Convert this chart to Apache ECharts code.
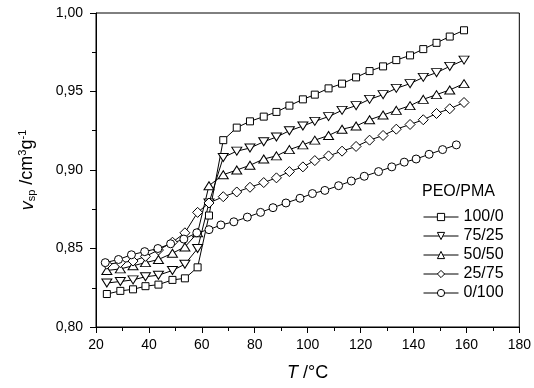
<!DOCTYPE html>
<html><head><meta charset="utf-8">
<script src="https://cdn.jsdelivr.net/npm/echarts@6/dist/echarts.min.js"></script>
<style>html,body{margin:0;padding:0;background:#fff}#c{width:534px;height:388px}</style>
</head><body><div id="c"></div>
<script>
const seriesNames = ['100/0', '75/25', '50/50', '25/75', '0/100'];
const tA = [24.1, 29.2, 34, 38.7, 43.6, 48.9, 53.6, 58.4, 62.7, 68.1, 73.2, 78.2, 83.4, 88.2, 93.1, 98.2, 102.7, 107.9, 113, 118.3, 123.4, 128.5, 133.5, 138.7, 143.7, 148.7, 153.7, 159.1];
const tCircle = [23.5, 28.5, 33.4, 38.4, 43.4, 48.2, 53.2, 58.1, 62.7, 67.2, 72.1, 77.2, 82.2, 86.9, 91.8, 97.1, 101.8, 106.5, 111.7, 116.5, 121.4, 126.8, 131.8, 136.5, 141, 145.9, 151, 156.2];
const v100_0 = [0.821, 0.823, 0.824, 0.826, 0.827, 0.830, 0.831, 0.838, 0.871, 0.919, 0.927, 0.931, 0.934, 0.937, 0.941, 0.945, 0.948, 0.952, 0.955, 0.959, 0.963, 0.966, 0.970, 0.973, 0.977, 0.981, 0.985, 0.989];
const v75_25 = [0.828, 0.829, 0.830, 0.832, 0.833, 0.836, 0.840, 0.850, 0.879, 0.908, 0.912, 0.914, 0.918, 0.921, 0.925, 0.928, 0.931, 0.934, 0.938, 0.941, 0.945, 0.948, 0.952, 0.955, 0.959, 0.962, 0.966, 0.970];
const v50_50 = [0.836, 0.837, 0.839, 0.841, 0.843, 0.847, 0.851, 0.860, 0.890, 0.897, 0.900, 0.903, 0.907, 0.909, 0.913, 0.916, 0.919, 0.922, 0.926, 0.928, 0.932, 0.935, 0.938, 0.941, 0.945, 0.948, 0.951, 0.955];
const v25_75 = [0.840, 0.841, 0.842, 0.845, 0.849, 0.854, 0.860, 0.873, 0.879, 0.883, 0.886, 0.889, 0.892, 0.895, 0.899, 0.902, 0.906, 0.909, 0.912, 0.915, 0.919, 0.922, 0.926, 0.929, 0.932, 0.936, 0.939, 0.943];
const v0_100 = [0.841, 0.843, 0.846, 0.848, 0.850, 0.853, 0.856, 0.860, 0.862, 0.865, 0.867, 0.870, 0.873, 0.876, 0.879, 0.882, 0.885, 0.887, 0.890, 0.893, 0.896, 0.899, 0.902, 0.905, 0.907, 0.910, 0.913, 0.916];
const xTicks = [20, 180, 20];
const yTicks = [0.80, 1.00, 0.05];

const FONT = '"Liberation Sans", Arial, sans-serif';
const pair = (t, v) => t.map((x, i) => [x, v[i]]);
const seriesDefs = [
  { name: seriesNames[0], data: pair(tA, v100_0), symbol: 'rect', size: 7, rot: 0 },
  { name: seriesNames[1], data: pair(tA, v75_25), symbol: 'triangle', size: [10, 8], rot: 180 },
  { name: seriesNames[2], data: pair(tA, v50_50), symbol: 'triangle', size: [10, 8], rot: 0 },
  { name: seriesNames[3], data: pair(tA, v25_75), symbol: 'diamond', size: [10, 10], rot: 0 },
  { name: seriesNames[4], data: pair(tCircle, v0_100), symbol: 'circle', size: 8, rot: 0 }
];

const chart = echarts.init(document.getElementById('c'), null, { renderer: 'canvas' });
chart.setOption({
  animation: false,
  backgroundColor: '#fff',
  textStyle: { fontFamily: FONT, color: '#000' },
  grid: { left: 96, right: 11, top: 13, bottom: 61, show: true, borderColor: '#000', borderWidth: 1, backgroundColor: 'transparent' },
  xAxis: {
    type: 'value', min: xTicks[0], max: xTicks[1], interval: xTicks[2],
    axisLine: { lineStyle: { color: '#000', width: 1 } },
    axisTick: { inside: false, length: 6, lineStyle: { color: '#000' } },
    minorTick: { show: true, splitNumber: 2, length: 4, lineStyle: { color: '#000' } },
    splitLine: { show: false },
    axisLabel: { color: '#000', fontSize: 14, fontFamily: FONT, margin: 11 },
    name: '{i|T} /°C', nameLocation: 'middle', nameGap: 37,
    nameTextStyle: { fontSize: 18, fontFamily: FONT, color: '#000', rich: { i: { fontStyle: 'italic', fontSize: 18, fontFamily: FONT } } }
  },
  yAxis: {
    type: 'value', min: yTicks[0], max: yTicks[1], interval: yTicks[2],
    axisLine: { lineStyle: { color: '#000', width: 1 } },
    axisTick: { inside: false, length: 6, lineStyle: { color: '#000' } },
    minorTick: { show: true, splitNumber: 2, length: 4, lineStyle: { color: '#000' } },
    splitLine: { show: false },
    axisLabel: { color: '#000', fontSize: 14, fontFamily: FONT, margin: 13, formatter: v => v.toFixed(2).replace('.', ',') },
    name: '{i|v}{sub|sp} /cm{sup|3}g{sup|-1}', nameLocation: 'middle', nameGap: 58, nameRotate: 90,
    nameTextStyle: {
      fontSize: 18, fontFamily: FONT, color: '#000',
      rich: {
        i: { fontStyle: 'italic', fontSize: 18, fontFamily: FONT },
        sub: { fontSize: 11, fontFamily: FONT, padding: [9, 0, 0, 0] },
        sup: { fontSize: 11, fontFamily: FONT, padding: [0, 0, 10, 0] }
      }
    }
  },
  legend: {
    orient: 'vertical', left: 418, top: 204, itemWidth: 35, itemHeight: 9, itemGap: 3,
    lineStyle: { color: '#000', width: 1 },
    itemStyle: { color: '#fff', borderColor: '#000', borderWidth: 1 },
    textStyle: { fontSize: 16, fontFamily: FONT, color: '#000' },
    data: seriesNames
  },
  graphic: [{
    type: 'text', left: 422, top: 184,
    style: { text: 'PEO/PMA', font: '16px ' + FONT, fill: '#000' }
  }],
  series: seriesDefs.map(s => ({
    type: 'line', name: s.name, data: s.data,
    symbol: s.symbol, symbolSize: s.size, symbolRotate: s.rot, showAllSymbol: true,
    lineStyle: { color: '#000', width: 1 },
    itemStyle: { color: '#fff', borderColor: '#000', borderWidth: 1 },
    emphasis: { disabled: true }
  }))
});
</script></body></html>
